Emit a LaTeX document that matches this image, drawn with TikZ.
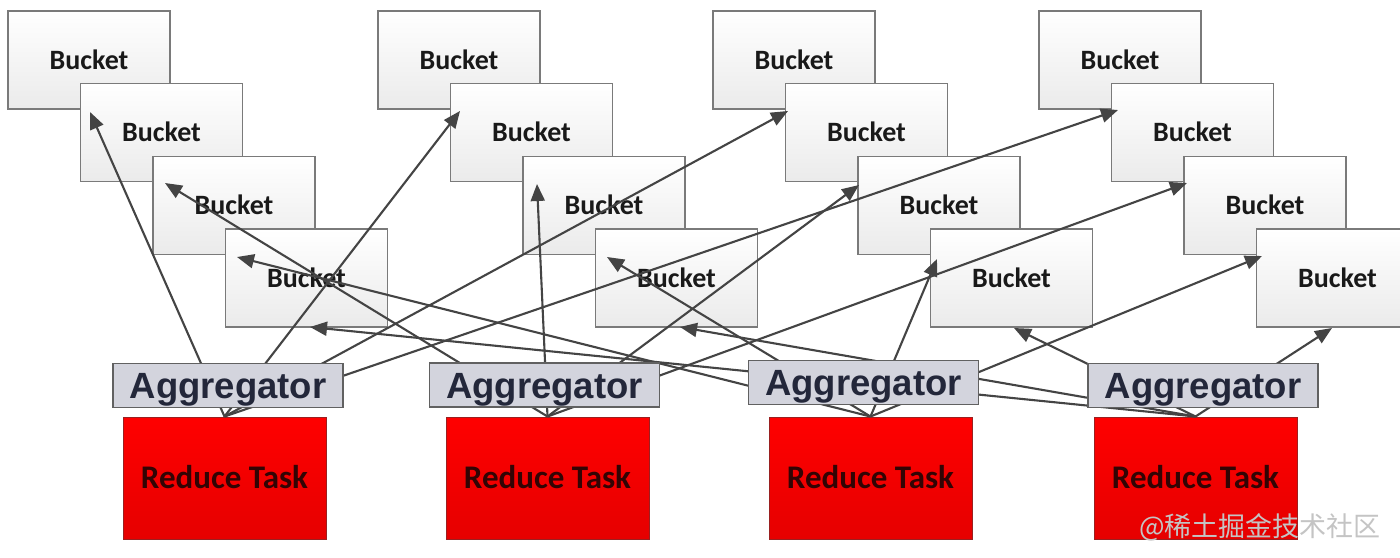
\documentclass[tikz,border=0pt]{standalone}
\usepackage{fontspec}
\setmainfont{Carlito}
\newfontfamily\aggfont{Liberation Sans}
\newfontfamily\cjkfont{Noto Sans CJK SC}
\usetikzlibrary{arrows.meta}
\definecolor{linegray}{HTML}{444444}
\definecolor{aggfill}{HTML}{D3D4DD}
\definecolor{aggtext}{HTML}{23273A}
\definecolor{redtext}{HTML}{320404}
\definecolor{redborder}{HTML}{9A2020}
\definecolor{wmgray}{HTML}{C4C4C4}
\tikzset{
  bucket/.style={draw=black!52, line width=1.3pt, top color=white, bottom color=black!8,
    minimum width=162pt, minimum height=98pt, inner sep=0pt,
    text height=18pt, text depth=0pt,
    font=\bfseries\fontsize{28}{30}\selectfont, text=black!90},
  aggbox/.style={draw=black!62, line width=1.6pt, fill=aggfill,
    minimum width=230pt, minimum height=44pt, inner sep=0pt,
    text height=26pt, text depth=0pt,
    font=\aggfont\bfseries\fontsize{36.5}{38}\selectfont, text=aggtext},
  reducebox/.style={draw=redborder, line width=1pt, top color=red, bottom color=red!90!black,
    minimum width=203pt, minimum height=122pt, inner sep=0pt,
    text height=21pt, text depth=0pt,
    font=\bfseries\fontsize{33}{35}\selectfont, text=redtext},
  conn/.style={draw=linegray, line width=2.1pt, -{Triangle[length=17pt,width=14pt]}}
}
\begin{document}
\begin{tikzpicture}[x=1pt,y=-1pt]
\useasboundingbox[fill=white] (0,0) rectangle (1400,557);
% buckets
\foreach \g/\bx in {1/8,2/378,3/713,4/1039}{
  \foreach \k in {1,2,3,4}{
    \node[bucket] (b\g\k) at ({\bx+(\k-1)*72.5+81},{11+(\k-1)*72.7+49}) {Bucket};
  }
}
% reduce tasks
\node[reducebox] (r1) at (224.5,478) {Reduce Task};
\node[reducebox] (r2) at (547.5,478) {Reduce Task};
\node[reducebox] (r3) at (870.5,478) {Reduce Task};
\node[reducebox] (r4) at (1195.5,478) {Reduce Task};
% arrow tips
\coordinate (t11) at (90,112);   \coordinate (t21) at (460,111);
\coordinate (t31) at (788,111);  \coordinate (t41) at (1118,110);
\coordinate (t12) at (165,183);  \coordinate (t22) at (537,184);
\coordinate (t32) at (859,185);  \coordinate (t42) at (1187,183);
\coordinate (t13) at (237,257);  \coordinate (t23) at (607,257);
\coordinate (t33) at (937,259);  \coordinate (t43) at (1262,256);
\coordinate (t14) at (310,327);  \coordinate (t24) at (680,327);
\coordinate (t34) at (1014,328); \coordinate (t44) at (1332,328);
% connectors
\foreach \k in {1,2,3,4}{
  \foreach \g in {1,2,3,4}{
    \draw[conn] (r\k.north) -- (t\g\k);
  }
}
% aggregators
\node[aggbox] (a1) at (228,385.5) {Aggregator};
\node[aggbox] (a2) at (544.5,385) {Aggregator};
\node[aggbox] (a3) at (863.5,382.5) {Aggregator};
\node[aggbox] (a4) at (1203,385.5) {Aggregator};
% watermark
\node[text=wmgray, font=\cjkfont\fontsize{27}{29}\selectfont, inner sep=0pt] (wm) at (1260,527) {@稀土掘金技术社区};
\end{tikzpicture}
\end{document}
